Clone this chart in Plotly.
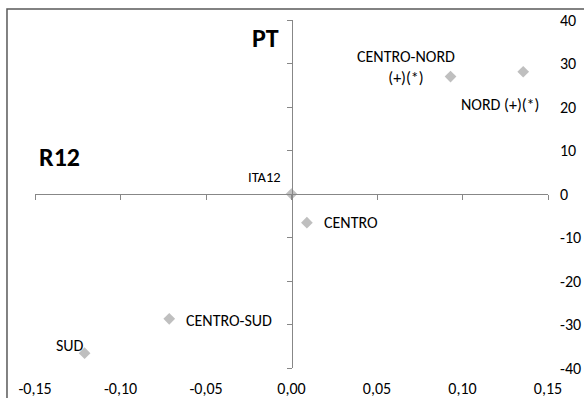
import plotly.graph_objects as go

# Data
regions = ["ITA12", "CENTRO", "CENTRO-NORD<br>(+)(*)", "NORD (+)(*)", "CENTRO-SUD", "SUD"]
r12 = [0.0, 0.009, 0.093, 0.1355, -0.0715, -0.121]
pt = [0.0, -6.6, 27.0, 28.1, -28.7, -36.6]
x_ticks = [-0.15, -0.10, -0.05, 0.0, 0.05, 0.10, 0.15]
x_tick_labels = ["-0,15", "-0,10", "-0,05", "0,00", "0,05", "0,10", "0,15"]
y_ticks = [-40, -30, -20, -10, 0, 10, 20, 30, 40]
y_tick_labels = [str(v) for v in y_ticks]

# Label styling (anchor, x offset px, y offset px, font size)
label_style = [
    ("right", -9, 17, 14.5),
    ("left", 15, 0, 16),
    ("center", -45, 10, 16),
    ("center", -23, -33, 16),
    ("left", 15, -1.5, 16),
    ("right", 1, 8, 16),
]

FONT = "Carlito, Calibri, Lato, sans-serif"
AXIS_COLOR = "#878787"

fig = go.Figure()
fig.add_trace(go.Scatter(
    x=r12, y=pt, mode="markers",
    marker=dict(symbol="diamond", size=9, color="#BFBFBF"),
    showlegend=False, hoverinfo="skip", cliponaxis=False,
))
fig.add_trace(go.Scatter(x=[], y=[], xaxis="x2", yaxis="y2", showlegend=False))

annotations = []
for name, xv, yv, (anc, dx, dy, fs) in zip(regions, r12, pt, label_style):
    annotations.append(dict(
        x=xv, y=yv, xref="x", yref="y", text=name, showarrow=False,
        xanchor=anc, yanchor="middle", xshift=dx, yshift=dy, align="center",
        font=dict(family=FONT, size=fs, color="#000000"),
    ))
annotations.append(dict(x=0.450, y=0.948, xref="paper", yref="paper", text="<b>PT</b>",
                        showarrow=False, xanchor="center", yanchor="middle",
                        font=dict(family=FONT, size=26, color="#000000")))
annotations.append(dict(x=0.047, y=0.606, xref="paper", yref="paper", text="<b>R12</b>",
                        showarrow=False, xanchor="center", yanchor="middle",
                        font=dict(family=FONT, size=26, color="#000000")))

fig.update_layout(
    width=584, height=398,
    margin=dict(l=35, r=36, t=20, b=30),
    paper_bgcolor="white", plot_bgcolor="white",
    separators=", ",
    font=dict(family=FONT, size=16, color="#000000"),
    xaxis=dict(range=[-0.15, 0.15], tickvals=x_ticks, ticktext=x_tick_labels,
               showgrid=False, zeroline=False, showline=False, ticks="",
               ticklabelstandoff=9, fixedrange=True, automargin=False),
    yaxis=dict(range=[-40, 40], tickvals=y_ticks, ticktext=y_tick_labels, side="right",
               showgrid=False, zeroline=False, showline=False, ticks="",
               ticklabelstandoff=11, fixedrange=True, automargin=False),
    xaxis2=dict(range=[-0.15, 0.15], overlaying="x", anchor="free", position=0.5,
                tickvals=x_ticks, showticklabels=False, ticks="outside", ticklen=5,
                tickcolor=AXIS_COLOR, showline=True, linecolor=AXIS_COLOR, linewidth=1,
                showgrid=False, zeroline=False, automargin=False),
    yaxis2=dict(range=[-40, 40], overlaying="y", anchor="free", position=0.5, side="left",
                tickvals=y_ticks, showticklabels=False, ticks="outside", ticklen=5,
                tickcolor=AXIS_COLOR, showline=True, linecolor=AXIS_COLOR, linewidth=1,
                showgrid=False, zeroline=False, automargin=False),
    annotations=annotations,
    shapes=[dict(type="rect", xref="paper", yref="paper",
                 x0=-0.0546, x1=1.3, y0=-0.3, y1=1.0316,
                 line=dict(color="#595959", width=1.5), fillcolor="rgba(0,0,0,0)",
                 layer="below")],
)

fig.write_html(
    "out.html",
    config={"displayModeBar": False},
    post_script="document.body.style.margin='0';document.body.style.overflow='hidden';",
)
